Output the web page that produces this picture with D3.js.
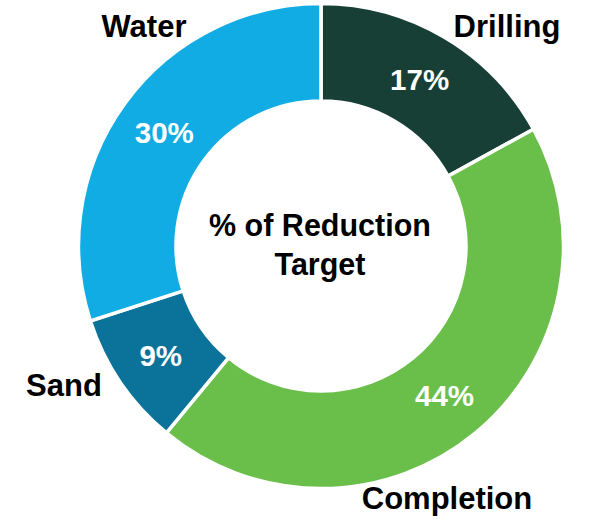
<!DOCTYPE html>
<html>
<head>
<meta charset="utf-8">
<script src="https://cdn.jsdelivr.net/npm/d3@7"></script>
<style>
  html, body { margin: 0; padding: 0; background: #ffffff; }
  svg { display: block; }
  text { font-family: "Liberation Sans", Arial, sans-serif; font-weight: bold; }
</style>
</head>
<body>
<svg id="chart" width="593" height="519"></svg>
<script>
// Share of the reduction target by operation category
const categories = ["Drilling", "Completion", "Sand", "Water"];
const values = [17, 44, 9, 30];
const colors = ["#183f35", "#6abf4b", "#0b7399", "#10ace3"];
const centerTitle = ["% of Reduction", "Target"];

// Category label placement, relative to the donut centre (text baseline)
const labelOffsets = [[186, -209], [126, 263], [-257, 150], [-177, -209]];

const width = 593, height = 519;
const cx = 321, cy = 246;
const outerR = 242.5, innerR = 145;

const svg = d3.select("#chart");
const g = svg.append("g").attr("transform", `translate(${cx},${cy})`);

const data = categories.map((c, i) => ({ name: c, value: values[i], color: colors[i], offset: labelOffsets[i] }));

const pie = d3.pie().sort(null).value(d => d.value).startAngle(0).endAngle(2 * Math.PI);
const arc = d3.arc().innerRadius(innerR).outerRadius(outerR);
const arcs = pie(data);

g.selectAll("path.slice")
  .data(arcs)
  .join("path")
  .attr("class", "slice")
  .attr("d", arc)
  .attr("fill", d => d.data.color)
  .attr("stroke", "#ffffff")
  .attr("stroke-width", 3.5)
  .attr("stroke-linejoin", "miter");

// Percentage labels at the ring centroid
g.selectAll("text.pct")
  .data(arcs)
  .join("text")
  .attr("class", "pct")
  .attr("x", d => arc.centroid(d)[0])
  .attr("y", d => arc.centroid(d)[1] + 10.6)
  .attr("text-anchor", "middle")
  .attr("font-size", 29.5)
  .attr("fill", "#ffffff")
  .text(d => d.data.value + "%");

// Category names outside the ring
g.selectAll("text.cat")
  .data(arcs)
  .join("text")
  .attr("class", "cat")
  .attr("x", d => d.data.offset[0])
  .attr("y", d => d.data.offset[1])
  .attr("text-anchor", "middle")
  .attr("font-size", 31)
  .attr("fill", "#000000")
  .text(d => d.data.name);

// Title in the hole
g.selectAll("text.title")
  .data(centerTitle)
  .join("text")
  .attr("class", "title")
  .attr("x", -1)
  .attr("y", (d, i) => -10 + i * 39)
  .attr("text-anchor", "middle")
  .attr("font-size", 30.5)
  .attr("fill", "#000000")
  .text(d => d);
</script>
</body>
</html>
